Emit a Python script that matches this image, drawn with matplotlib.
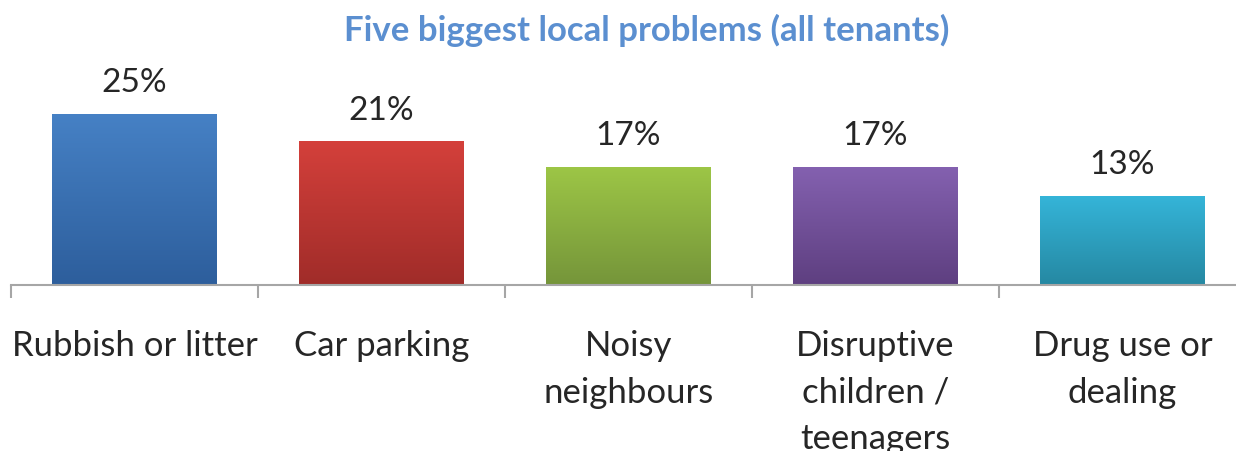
import matplotlib.pyplot as plt
import matplotlib.colors as mcolors
import numpy as np

categories = ['Rubbish or litter', 'Car parking', 'Noisy\nneighbours',
              'Disruptive\nchildren /\nteenagers', 'Drug use or\ndealing']
values = [25, 21, 17.3, 17.3, 13]
top_colors = ['#4681c5', '#d4403b', '#9dc646', '#8461b0', '#35b5d9']
bottom_colors = ['#2d5e9c', '#a02c29', '#75953a', '#5e3f80', '#2588a2']

plt.rcParams['font.family'] = ['Lato', 'DejaVu Sans']

fig = plt.figure(figsize=(12.36, 4.52), dpi=100)
# axis starts at x=11px, each category is 247px wide (the right edge runs off the picture)
ax = fig.add_axes([11 / 1236, 166 / 452, 1235 / 1236, 226 / 452])

x = np.arange(len(values))
bars = ax.bar(x, values, width=0.668, color='none', edgecolor='none', zorder=2)

# vertical gradient fill for each bar
for b, c_top, c_bot in zip(bars, top_colors, bottom_colors):
    x0, w, h = b.get_x(), b.get_width(), b.get_height()
    cmap = mcolors.LinearSegmentedColormap.from_list('g', [c_bot, c_top])
    grad = np.linspace(0, 1, 256).reshape(-1, 1)
    im = ax.imshow(grad, cmap=cmap, origin='lower', aspect='auto',
                   extent=(x0, x0 + w, 0, h), zorder=2)
    im.set_clip_path(b)

for xi, v in zip(x, values):
    ax.annotate(f'{v:.0f}%', (xi, v), xytext=(0, 12), textcoords='offset points',
                ha='center', va='bottom', fontsize=24, color='#262626')

ax.set_xlim(-0.5, len(values) - 0.5)
ax.set_ylim(0, 33)

ax.set_xticks(np.arange(len(values) + 1) - 0.5)
ax.set_xticklabels([])
ax.tick_params(axis='x', which='major', length=9, width=1.5, color='#a6a6a6')
ax.set_xticks(x, minor=True)
ax.set_xticklabels(categories, minor=True, fontsize=25, color='#262626', linespacing=1.55)
ax.tick_params(axis='x', which='minor', length=0, pad=32)
ax.set_yticks([])

for s in ['top', 'right', 'left']:
    ax.spines[s].set_visible(False)
ax.spines['bottom'].set_color('#a6a6a6')
ax.spines['bottom'].set_linewidth(1.5)

fig.text(647 / 1236, 1 - 30 / 452, 'Five biggest local problems (all tenants)',
         ha='center', va='center', fontsize=25, fontweight='bold', color='#5b8fd0')

fig.savefig('out.png', dpi=100)
